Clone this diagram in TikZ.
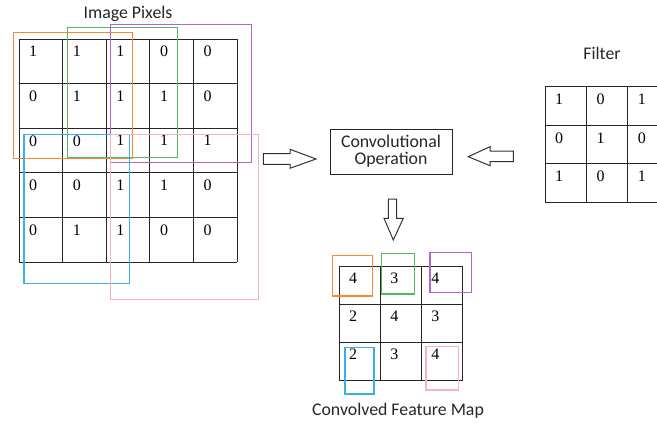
\documentclass[tikz,border=0pt]{standalone}
\usepackage{fontspec}
\setmainfont{Liberation Serif}
\newfontfamily\labelfont{Carlito}

\definecolor{winorange}{RGB}{250,135,50}
\definecolor{wingreen}{RGB}{85,185,100}
\definecolor{winpurple}{RGB}{180,100,200}
\definecolor{winblue}{RGB}{60,175,235}
\definecolor{winpink}{RGB}{250,175,200}

\begin{document}
\begin{tikzpicture}[x=1pt,y=-1pt,
  cellline/.style={line width=1pt,black!85},
  cell/.style={anchor=north west,inner sep=0pt,font=\fontsize{16}{18}\selectfont},
  lbl/.style={font=\labelfont\fontsize{17.8}{20}\selectfont,text=black!85},
  win/.style={line width=1.2pt},
  hollow/.style={line width=1pt,black!80,line join=miter}]
\useasboundingbox (0,0) rectangle (657,423);

% image pixels
\foreach \c in {0,...,5} \draw[cellline] ({19+43.6*\c},39) -- ({19+43.6*\c},262);
\foreach \r in {0,...,5} \draw[cellline] (19,{39+44.6*\r}) -- (237,{39+44.6*\r});
\foreach \row [count=\r from 0] in {{1,1,1,0,0},{0,1,1,1,0},{0,0,1,1,1},{0,0,1,1,0},{0,1,1,0,0}}
  \foreach \v [count=\c from 0] in \row
    \node[cell] (p\r\c) at ({19+43.6*\c+10},{39+44.6*\r+7}) {\v};
\node[lbl] (pixlabel) at (128,14) {Image Pixels};

% windows on the image
\draw[win,winorange] (13.3,32.3) rectangle (132.3,158.3);
\draw[win,wingreen] (67.7,27.3) rectangle (177.7,157.3);
\draw[win,winpurple] (110.7,24.3) rectangle (251.7,162.7);
\draw[win,winblue] (24,134.7) rectangle (129.3,283.7);
\draw[win,winpink] (110.7,134.7) rectangle (258.7,299.7);

% filter
\foreach \c in {0,...,3} \draw[cellline] ({545+41.3*\c},86.5) -- ({545+41.3*\c},202);
\foreach \r in {0,...,3} \draw[cellline] (545,{86.5+38.5*\r}) -- (669,{86.5+38.5*\r});
\foreach \row [count=\r from 0] in {{1,0,1},{0,1,0},{1,0,1}}
  \foreach \v [count=\c from 0] in \row
    \node[cell] (f\r\c) at ({545+41.3*\c+10},{86.5+38.5*\r+7.5}) {\v};
\node[lbl] (filterlabel) at (602,53) {Filter};

% operation
\node[lbl,draw=black!85,line width=1pt,align=center,minimum width=122pt,minimum height=45pt,
  inner sep=0pt] (conv) at (391,151.5) {Convolutional\\[-3pt]Operation};

% hollow arrows
\draw[hollow] (263.3,153.5) -- (290,153.5) -- (290,149.3) -- (316,159) -- (290,168.3)
  -- (290,164.3) -- (263.3,164.3) -- cycle;
\draw[hollow] (513.3,151) -- (490,151) -- (490,146.7) -- (468.3,156.7) -- (490,165.7)
  -- (490,161.7) -- (513.3,161.7) -- cycle;
\draw[hollow] (388.3,199) -- (396.7,199) -- (396.7,218.3) -- (403.3,218.3) -- (393.3,240)
  -- (384,218.3) -- (388.3,218.3) -- cycle;

% convolved feature map
\foreach \c in {0,...,3} \draw[cellline] ({339+41.1*\c},266) -- ({339+41.1*\c},381);
\foreach \r in {0,...,3} \draw[cellline] (339,{266+38.3*\r}) -- (462.3,{266+38.3*\r});
\foreach \row [count=\r from 0] in {{4,3,4},{2,4,3},{2,3,4}}
  \foreach \v [count=\c from 0] in \row
    \node[cell] (m\r\c) at ({339+41.1*\c+10},{266+38.3*\r+6.5}) {\v};
\node[lbl] (maplabel) at (398,411) {Convolved Feature Map};

% windows on the map
\draw[win,winorange] (332.3,255.7) rectangle (372.7,296);
\draw[win,wingreen] (381.7,253.3) rectangle (414.3,294);
\draw[win,winpurple] (430,252.3) rectangle (471.7,292.7);
\draw[win,winblue] (345,347.3) rectangle (374,394);
\draw[win,winpink] (426,346.7) rectangle (458.7,390);

\end{tikzpicture}
\end{document}
